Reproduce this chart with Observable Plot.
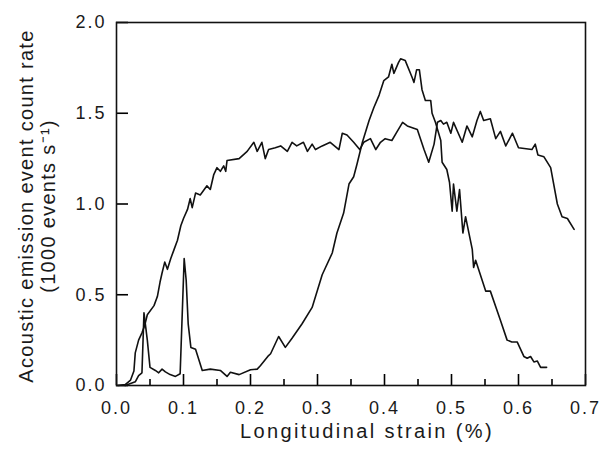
<!DOCTYPE html>
<html><head><meta charset="utf-8">
<script src="https://cdn.jsdelivr.net/npm/d3@7"></script>
<script src="https://cdn.jsdelivr.net/npm/@observablehq/plot@0.6"></script>
<style>body{margin:0;background:#fff}</style>
</head><body><div id="chart"></div>
<script>
// Curve A: broad plateau curve
const strainA = [0.002,0.013,0.021,0.026,0.028,0.033,0.038,0.042,0.046,0.056,0.061,0.065,0.068,0.072,0.076,0.081,0.086,0.091,0.096,0.100,0.106,0.110,0.113,0.118,0.125,0.135,0.140,0.145,0.150,0.155,0.160,0.163,0.165,0.183,0.195,0.205,0.210,0.217,0.222,0.227,0.237,0.245,0.255,0.262,0.269,0.279,0.285,0.292,0.297,0.307,0.319,0.332,0.337,0.344,0.354,0.363,0.369,0.379,0.387,0.394,0.401,0.411,0.419,0.427,0.434,0.449,0.459,0.466,0.474,0.479,0.484,0.488,0.493,0.499,0.503,0.516,0.523,0.531,0.538,0.543,0.548,0.558,0.566,0.573,0.581,0.591,0.600,0.620,0.625,0.629,0.638,0.648,0.658,0.665,0.673,0.683];
const rateA   = [0.00,0.005,0.03,0.08,0.18,0.25,0.29,0.33,0.39,0.44,0.49,0.57,0.62,0.68,0.64,0.70,0.75,0.80,0.88,0.92,0.97,1.03,0.98,1.06,1.05,1.10,1.08,1.16,1.20,1.18,1.21,1.18,1.24,1.25,1.29,1.34,1.29,1.34,1.25,1.30,1.31,1.32,1.29,1.34,1.32,1.34,1.29,1.33,1.30,1.32,1.34,1.30,1.39,1.38,1.34,1.30,1.34,1.36,1.30,1.34,1.36,1.35,1.40,1.45,1.43,1.41,1.30,1.23,1.33,1.45,1.46,1.44,1.45,1.39,1.45,1.34,1.43,1.37,1.46,1.51,1.46,1.47,1.36,1.40,1.32,1.39,1.31,1.30,1.33,1.27,1.26,1.20,1.00,0.93,0.92,0.86];

// Curve B: spiky start, high peak
const strainB = [0.013,0.028,0.033,0.038,0.041,0.046,0.050,0.058,0.063,0.068,0.073,0.080,0.088,0.095,0.101,0.104,0.107,0.111,0.118,0.128,0.140,0.155,0.165,0.170,0.183,0.200,0.210,0.215,0.227,0.230,0.242,0.252,0.262,0.277,0.292,0.307,0.322,0.329,0.339,0.347,0.354,0.359,0.367,0.377,0.384,0.392,0.399,0.406,0.411,0.414,0.421,0.424,0.431,0.441,0.444,0.448,0.452,0.456,0.461,0.469,0.471,0.476,0.484,0.486,0.493,0.497,0.501,0.503,0.508,0.512,0.517,0.521,0.526,0.531,0.533,0.536,0.551,0.558,0.573,0.583,0.590,0.598,0.608,0.613,0.618,0.623,0.628,0.633,0.642];
const rateB   = [0.00,0.02,0.055,0.07,0.40,0.25,0.10,0.083,0.07,0.09,0.075,0.06,0.05,0.065,0.70,0.58,0.34,0.21,0.20,0.083,0.09,0.083,0.05,0.073,0.06,0.087,0.09,0.11,0.165,0.175,0.27,0.21,0.26,0.34,0.43,0.61,0.73,0.84,0.95,1.11,1.15,1.22,1.34,1.46,1.53,1.60,1.68,1.70,1.77,1.72,1.78,1.80,1.79,1.70,1.67,1.74,1.74,1.63,1.57,1.57,1.50,1.45,1.35,1.23,1.19,1.12,0.96,1.11,0.96,1.08,0.84,0.93,0.84,0.75,0.65,0.69,0.52,0.52,0.36,0.25,0.24,0.24,0.16,0.15,0.16,0.13,0.135,0.10,0.10];

const xMajorTicks = [0,0.1,0.2,0.3,0.4,0.5,0.6,0.7];
const xMinorTicks = [0.05,0.15,0.25,0.35,0.45,0.55,0.65];
const yTicks = [0,0.5,1.0,1.5,2.0];
const xTitle = "Longitudinal strain (%)";
const yTitle = "Acoustic emission event count rate\n(1000 events s\u207B\u00B9)";

const curveA = strainA.map((x, i) => ({x, y: rateA[i]}));
const curveB = strainB.map((x, i) => ({x, y: rateB[i]}));
const fmt = d3.format(".1f");

const W = 610, H = 449, ML = 116, MR = 25, MT = 22, MB = 64;
const plotW = W - ML - MR, plotH = H - MT - MB;

const chart = Plot.plot({
  width: W, height: H,
  marginLeft: ML, marginRight: MR, marginTop: MT, marginBottom: MB,
  style: {fontFamily: "'Liberation Sans', Arial, Helvetica, sans-serif", fontSize: "18px", color: "#1a1a1a", background: "#fff"},
  x: {domain: [0, 0.7], label: null},
  y: {domain: [0, 2], label: null},
  marks: [
    // inward ticks
    Plot.ruleX(xMajorTicks, {x: d => d, insetTop: plotH - 11, stroke: "#000", strokeWidth: 1.6}),
    Plot.ruleX(xMinorTicks, {x: d => d, insetTop: plotH - 6, stroke: "#000", strokeWidth: 1.6}),
    Plot.ruleY(yTicks, {y: d => d, insetRight: plotW - 12, stroke: "#000", strokeWidth: 1.6}),
    Plot.axisX(xMajorTicks, {tickSize: 0, tickPadding: 16, tickFormat: fmt, fill: "#1a1a1a", label: null}),
    Plot.axisY(yTicks, {tickSize: 0, tickPadding: 10, tickFormat: fmt, fill: "#1a1a1a", label: null}),
    Plot.frame({stroke: "#111", strokeWidth: 1.6}),
    Plot.line(curveA, {x: "x", y: "y", stroke: "#111", strokeWidth: 1.6, strokeLinejoin: "round"}),
    Plot.line(curveB, {x: "x", y: "y", stroke: "#111", strokeWidth: 1.6, strokeLinejoin: "round"}),
    Plot.text([xTitle], {text: d => d, frameAnchor: "bottom", textAnchor: "middle", dy: 52, dx: 16, fontSize: 20, fill: "#1a1a1a"}),
    Plot.text([yTitle], {text: d => d, frameAnchor: "left", textAnchor: "middle", rotate: -90, dx: -80, dy: 2, fontSize: 20, lineHeight: 1.1, fill: "#1a1a1a"})
  ]
});
document.getElementById("chart").appendChild(chart);
d3.select(chart).selectAll("g[aria-label='x-axis tick label'] text, g[aria-label='y-axis tick label'] text").style("letter-spacing", "2px");
const texts = d3.select(chart).selectAll("g[aria-label='text']");
texts.filter((d, i) => i === 0).selectAll("text").style("letter-spacing", "2.4px");
texts.filter((d, i) => i === 1).selectAll("text").style("letter-spacing", "1.3px");
</script>
</body></html>
